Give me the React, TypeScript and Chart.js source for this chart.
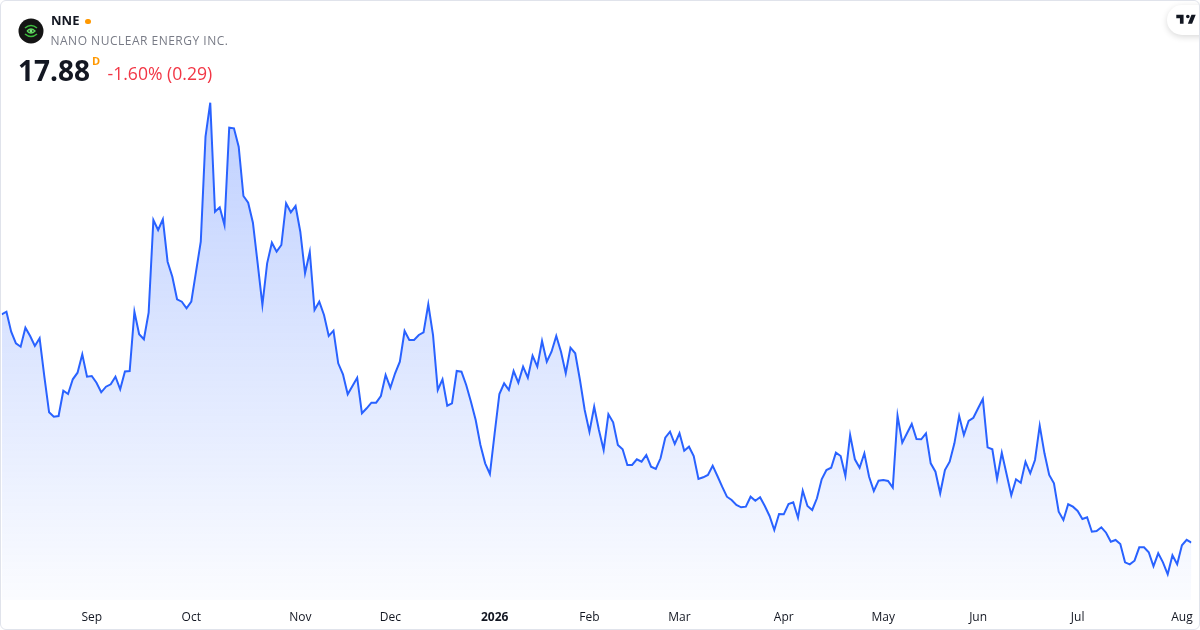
import React, { useEffect, useRef } from "react";
import { Chart, registerables } from "chart.js";

Chart.register(...registerables);

// Daily closes (USD), one array per calendar month of trading days
const aug2025 = [40.72, 40.98, 38.98, 37.82, 37.48, 39.38, 38.55, 37.55, 38.32, 34.48, 30.92, 30.48, 30.55, 33.08, 32.75, 34.22, 34.88, 36.72, 34.48];
const sep2025 = [34.55, 33.88, 32.92, 33.48, 33.72, 34.48, 33.22, 35.0, 35.05, 40.98, 38.72, 38.22, 40.88, 50.15, 49.15, 50.22, 45.98, 44.48, 42.22, 41.98, 41.32];
const oct2025 = [41.98, 44.98, 47.98, 58.48, 61.88, 50.98, 51.42, 49.65, 59.38, 59.32, 57.48, 52.55, 51.88, 49.88, 45.82, 41.65, 45.82, 47.88, 46.98, 47.65, 51.82, 50.92, 51.55];
const nov2025 = [48.98, 44.82, 46.95, 41.15, 41.98, 40.65, 38.55, 39.08, 35.82, 34.72, 32.72, 33.55, 34.38, 30.82, 31.32, 31.88, 31.88, 32.55, 34.65];
const dec2025 = [33.38, 34.82, 35.98, 39.05, 38.15, 38.15, 38.65, 38.92, 41.72, 38.65, 33.15, 34.22, 31.58, 31.82, 35.05, 34.98, 33.65, 31.98, 30.15, 27.65, 25.82, 24.75];
const jan2026 = [28.82, 32.75, 33.82, 33.15, 35.05, 33.88, 35.48, 34.38, 36.58, 35.48, 38.05, 35.98, 36.98, 38.55, 36.98, 34.82, 37.38, 36.82, 34.15, 31.15];
const feb2026 = [28.98, 31.48, 29.15, 27.15, 30.72, 29.92, 27.65, 27.22, 25.65, 25.65, 26.22, 25.98, 26.65, 25.48, 25.25, 26.32, 28.38, 28.98, 27.75];
const mar2026 = [28.82, 27.08, 27.48, 26.55, 24.25, 24.42, 24.65, 25.58, 24.55, 23.48, 22.48, 22.15, 21.65, 21.42, 21.48, 22.48, 22.08, 22.42, 21.55, 20.55, 19.15, 20.75];
const apr2026 = [20.72, 21.75, 21.92, 20.38, 23.08, 21.55, 21.15, 22.32, 24.22, 25.15, 25.38, 26.88, 26.55, 24.55, 28.65, 26.22, 25.38, 26.82, 24.48, 23.05, 24.08];
const may2026 = [24.15, 24.05, 23.38, 30.58, 27.88, 28.82, 29.75, 28.25, 28.22, 28.82, 25.82, 24.98, 22.82, 25.15, 25.98, 27.82, 30.55, 28.65, 30.05, 30.38];
const jun2026 = [31.32, 32.25, 27.42, 27.22, 24.25, 26.88, 24.75, 22.62, 24.22, 23.88, 25.98, 24.82, 26.15, 29.58, 26.82, 24.65, 23.82, 20.98, 20.15, 21.72, 21.48];
const jul2026 = [21.05, 20.25, 20.42, 18.98, 19.05, 19.42, 18.88, 17.98, 18.15, 17.75, 15.92, 15.72, 16.08, 17.42, 17.42, 16.92, 15.52, 16.82, 15.92, 14.72, 16.62, 15.72];
const aug2026 = [17.62, 18.17, 17.88];

const monthSeries = [aug2025, sep2025, oct2025, nov2025, dec2025, jan2026, feb2026, mar2026, apr2026, may2026, jun2026, jul2026, aug2026];
// Axis labels for the first trading day of each month (first partial month has none)
const monthTickLabels = ["", "Sep", "Oct", "Nov", "Dec", "2026", "Feb", "Mar", "Apr", "May", "Jun", "Jul", "Aug"];

const lastPrice = "17.88";
const changeText = "-1.60% (0.29)";

const FONT = "'Open Sans', 'Noto Sans', sans-serif";

export default function App() {
  const canvasRef = useRef<HTMLCanvasElement | null>(null);

  useEffect(() => {
    const closes: number[] = ([] as number[]).concat(...monthSeries);
    const points = closes.map((v, i) => ({ x: i, y: v }));
    const tickIdx: number[] = [];
    const tickLab: string[] = [];
    let start = 0;
    monthSeries.forEach((m, k) => {
      if (monthTickLabels[k]) {
        tickIdx.push(start);
        tickLab.push(monthTickLabels[k]);
      }
      start += m.length;
    });

    const canvas = canvasRef.current!;
    const chart = new Chart(canvas, {
      type: "line",
      data: {
        datasets: [
          {
            data: points,
            borderColor: "#2962FF",
            borderWidth: 2,
            pointRadius: 0,
            tension: 0,
            fill: "start",
            backgroundColor: (context: any) => {
              const { ctx, chartArea } = context.chart;
              if (!chartArea) return "rgba(41,98,255,0.15)";
              const g = ctx.createLinearGradient(0, chartArea.top, 0, chartArea.bottom);
              g.addColorStop(0, "rgba(41,98,255,0.30)");
              g.addColorStop(1, "rgba(41,98,255,0.02)");
              return g;
            },
          },
        ],
      },
      options: {
        responsive: false,
        animation: false,
        layout: { padding: { left: 1.7, right: 8.6, top: 100, bottom: 5.6 } },
        plugins: { legend: { display: false }, tooltip: { enabled: false } },
        scales: {
          x: {
            type: "linear",
            min: 0,
            max: closes.length - 1,
            grid: { display: false, drawTicks: false },
            border: { display: false },
            afterBuildTicks: (scale: any) => {
              scale.ticks = tickIdx.map((v) => ({ value: v }));
            },
            afterFit: (scale: any) => {
              scale.height = 24.4;
              scale.paddingLeft = 0;
              scale.paddingRight = 0;
            },
            ticks: {
              autoSkip: false,
              maxRotation: 0,
              padding: 10,
              color: "#131722",
              font: (ctx: any) => ({
                family: FONT,
                size: 12,
                weight: ctx.tick && ctx.tick.label === "2026" ? "bold" : "normal",
              }),
              callback: (_v: any, i: number) => tickLab[i],
            },
          },
          y: {
            display: false,
            min: 12.15,
            max: 62.15,
          },
        },
      },
    });
    return () => chart.destroy();
  }, []);

  return (
    <div
      style={{
        position: "fixed",
        left: 0,
        top: 0,
        width: 1200,
        height: 630,
        overflow: "hidden",
        background: "#ffffff",
        fontFamily: FONT,
      }}
    >
      <canvas ref={canvasRef} width={1200} height={630} style={{ position: "absolute", left: 0, top: 0, width: 1200, height: 630 }} />

      {/* logo */}
      <svg width={26} height={26} viewBox="0 0 26 26" style={{ position: "absolute", left: 18, top: 18 }}>
        <circle cx={13} cy={13} r={12.5} fill="#141414" />
        <path d="M7 10 Q13 5 19 10" stroke="#3fbf3f" strokeWidth={1.6} fill="none" />
        <path d="M7 16 Q13 21 19 16" stroke="#3fbf3f" strokeWidth={1.6} fill="none" />
        <path d="M9 13 Q13 9 17 13 Q13 17 9 13" stroke="#5ad65a" strokeWidth={1.3} fill="none" />
        <circle cx={13} cy={13} r={1.4} fill="#7be37b" />
      </svg>

      <div style={{ position: "absolute", left: 51, top: 14.4, fontSize: 13, lineHeight: "13px", fontWeight: 700, color: "#131722", whiteSpace: "nowrap" }}>
        NNE
      </div>
      <div style={{ position: "absolute", left: 85, top: 18.5, width: 5.5, height: 5.5, borderRadius: "50%", background: "#FF9800" }} />
      <div style={{ position: "absolute", left: 50.5, top: 34.6, fontSize: 12, lineHeight: "12px", letterSpacing: "0.5px", color: "#787B86", whiteSpace: "nowrap" }}>
        NANO NUCLEAR ENERGY INC.
      </div>
      <div style={{ position: "absolute", left: 18, top: 56.1, fontSize: 28, lineHeight: "28px", fontWeight: 700, color: "#131722", whiteSpace: "nowrap" }}>
        {lastPrice}
      </div>
      <div style={{ position: "absolute", left: 92, top: 55, fontSize: 11, lineHeight: "11px", fontWeight: 700, color: "#FF9800" }}>
        D
      </div>
      <div style={{ position: "absolute", left: 107.5, top: 64.6, fontSize: 17.6, lineHeight: "17.6px", color: "#F23645", whiteSpace: "nowrap" }}>
        {changeText}
      </div>

      {/* TradingView badge */}
      <div
        style={{
          position: "absolute",
          left: 1167,
          top: 5,
          width: 50,
          height: 30,
          borderRadius: 15,
          background: "#ffffff",
          boxShadow: "0 2px 6px rgba(0,0,0,0.15)",
        }}
      />
      <svg width={22} height={17} viewBox="0 0 36 28" style={{ position: "absolute", left: 1175, top: 11 }}>
        <path d="M14 6H2v6h6v9h6V6Zm14 15h-7l6-15h7l-6 15Zm-7-9a3 3 0 1 0 0-6 3 3 0 0 0 0 6Z" fill="#131722" />
      </svg>

      {/* card border */}
      <div
        style={{
          position: "absolute",
          left: 0,
          top: 0,
          width: 1200,
          height: 630,
          boxSizing: "border-box",
          border: "1px solid #E0E3EB",
          borderRadius: 6,
          pointerEvents: "none",
        }}
      />
    </div>
  );
}
